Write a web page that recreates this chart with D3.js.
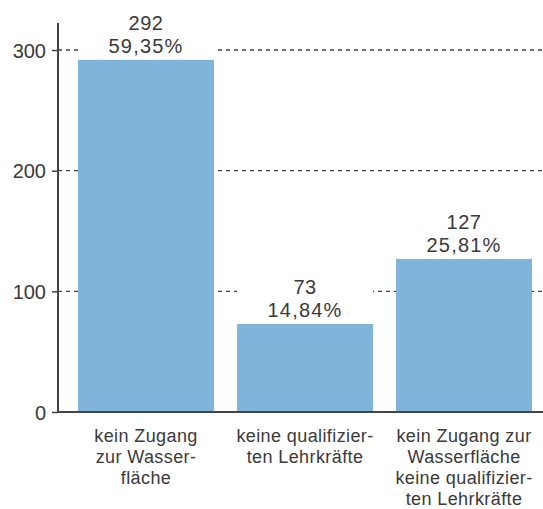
<!DOCTYPE html>
<html lang="de">
  <head>
    <meta charset="UTF-8" />
    <title>Gründe</title>
    <script src="https://d3js.org/d3.v7.min.js"></script>
    <style>
      body { margin: 0; background: #fff; }
      text { font-family: "Liberation Sans", Arial, sans-serif; fill: #3a3a3a; }
    </style>
  </head>
  <body>
    <div id="viz"></div>
    <script>
      // data
      const categories = ["a", "b", "c"];
      const catLabels = [
        ["kein Zugang", "zur Wasser-", "fläche"],
        ["keine qualifizier-", "ten Lehrkräfte"],
        ["kein Zugang zur", "Wasserfläche", "keine qualifizier-", "ten Lehrkräfte"]
      ];
      const counts = [292, 73, 127];
      const percents = ["59,35%", "14,84%", "25,81%"];
      const yTicks = [0, 100, 200, 300];

      const width = 543, height = 509;
      const axisX = 58, baseY = 412;

      const svg = d3.select("#viz").append("svg")
        .attr("width", width)
        .attr("height", height);

      const y = d3.scaleLinear().domain([0, 300]).range([baseY, 50]);
      const x = d3.scaleBand().domain(categories)
        .range([66.5, 543.5])
        .paddingInner(0.145)
        .paddingOuter(0.0725);

      // dashed grid lines
      svg.append("g").selectAll("line")
        .data(yTicks.filter(d => d > 0))
        .join("line")
        .attr("x1", axisX).attr("x2", width)
        .attr("y1", d => y(d)).attr("y2", d => y(d))
        .attr("stroke", "#444")
        .attr("stroke-width", 1.3)
        .attr("stroke-dasharray", "4,4");

      // bars
      svg.append("g").selectAll("rect")
        .data(counts)
        .join("rect")
        .attr("x", (d, i) => x(categories[i]))
        .attr("width", x.bandwidth())
        .attr("y", d => y(d))
        .attr("height", d => baseY - y(d))
        .attr("fill", "#80b4da");

      // y axis
      const yAxis = d3.axisLeft(y).tickValues(yTicks).tickSize(6).tickPadding(6);
      const gy = svg.append("g")
        .attr("transform", `translate(${axisX},0)`)
        .call(yAxis);
      gy.select(".domain").remove();
      gy.selectAll(".tick line").attr("stroke", "#444").attr("stroke-width", 1.5);
      gy.selectAll(".tick text")
        .attr("font-size", 20)
        .attr("font-family", "'Liberation Sans', Arial, sans-serif")
        .attr("fill", "#3a3a3a")
        .attr("dy", "0.36em");
      svg.append("line")
        .attr("x1", axisX).attr("x2", axisX)
        .attr("y1", 23).attr("y2", baseY)
        .attr("stroke", "#444").attr("stroke-width", 2);

      // baseline
      svg.append("line")
        .attr("x1", axisX).attr("x2", width)
        .attr("y1", baseY).attr("y2", baseY)
        .attr("stroke", "#444").attr("stroke-width", 2);

      // value labels, on a white box that hides the grid behind them
      const vl = svg.append("g").selectAll("g")
        .data(counts)
        .join("g")
        .attr("transform", (d, i) => `translate(${x(categories[i]) + x.bandwidth() / 2},${y(d)})`);
      vl.append("rect")
        .attr("x", -x.bandwidth() / 2)
        .attr("width", x.bandwidth())
        .attr("y", -48)
        .attr("height", 48)
        .attr("fill", "#fff");
      vl.append("text")
        .attr("text-anchor", "middle")
        .attr("y", -30)
        .attr("font-size", 20)
        .attr("letter-spacing", 0.5)
        .text(d => d);
      vl.append("text")
        .attr("text-anchor", "middle")
        .attr("y", -7)
        .attr("font-size", 20)
        .attr("letter-spacing", 1.2)
        .text((d, i) => percents[i]);

      // category labels
      const cl = svg.append("g").selectAll("text")
        .data(catLabels)
        .join("text")
        .attr("text-anchor", "middle")
        .attr("font-size", 18)
        .attr("letter-spacing", 0.4)
        .attr("transform", (d, i) => `translate(${x(categories[i]) + x.bandwidth() / 2},442)`);
      cl.selectAll("tspan")
        .data(d => d)
        .join("tspan")
        .attr("x", 0)
        .attr("y", (d, j) => j * 21)
        .text(d => d);
    </script>
  </body>
</html>
